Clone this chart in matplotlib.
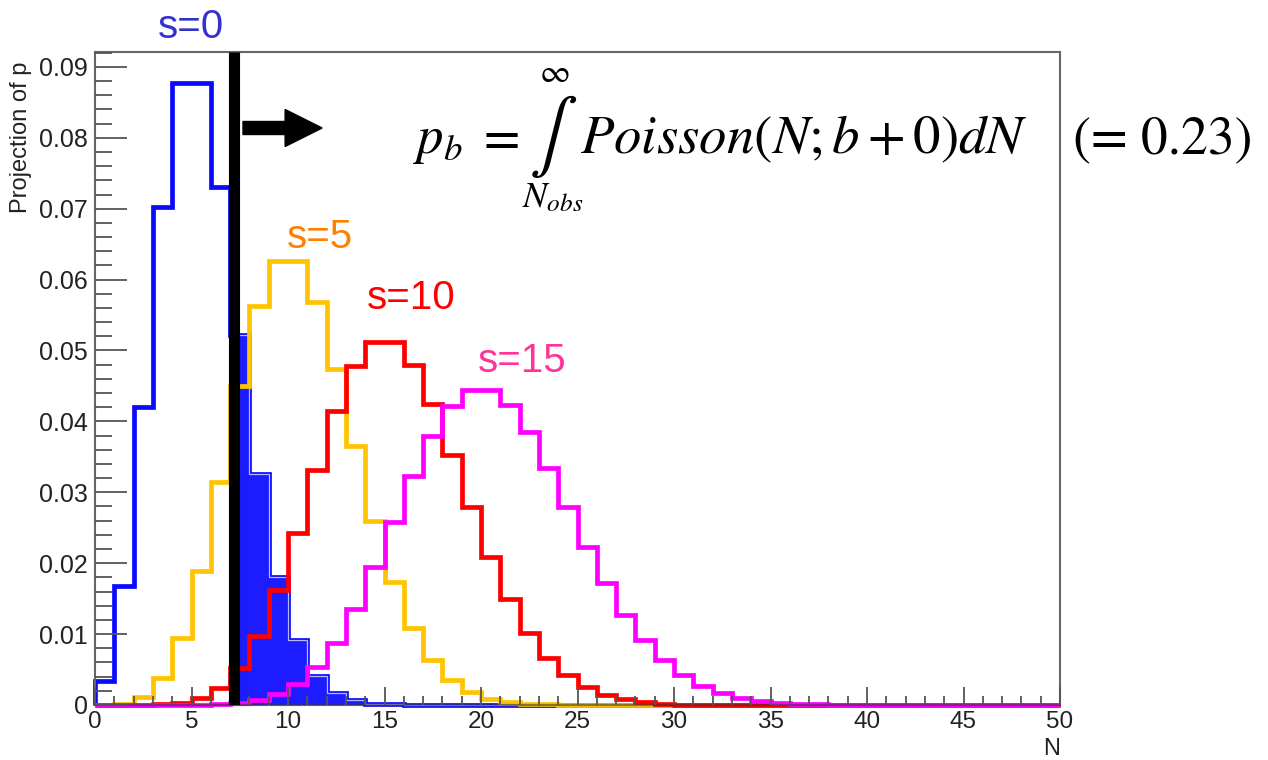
import numpy as np
import matplotlib
matplotlib.use("Agg")
import matplotlib.pyplot as plt
from matplotlib.patches import FancyArrow
from matplotlib.ticker import MultipleLocator, FuncFormatter

plt.rcParams['font.family'] = ['Liberation Sans', 'DejaVu Sans']
plt.rcParams['mathtext.fontset'] = 'stix'

# ---------------- data ----------------
n_bins = 50
x_min, x_max = 0, 50
n_obs = 7

s0_vals = [0.0034, 0.0168, 0.0421, 0.0702, 0.0877, 0.0877, 0.0731, 0.0522, 0.0326, 0.0181,
           0.0091, 0.0041, 0.0017, 0.0007, 0.0002, 0.0001]
s5_vals = [0.0000, 0.0002, 0.0011, 0.0038, 0.0095, 0.0189, 0.0315, 0.0450, 0.0563, 0.0626,
           0.0626, 0.0569, 0.0474, 0.0365, 0.0260, 0.0174, 0.0108, 0.0064, 0.0035, 0.0019,
           0.0009, 0.0004, 0.0002, 0.0001]
s10_vals = [0.0000, 0.0000, 0.0000, 0.0001, 0.0003, 0.0010, 0.0024, 0.0052, 0.0097, 0.0162,
            0.0243, 0.0331, 0.0414, 0.0478, 0.0512, 0.0512, 0.0480, 0.0424, 0.0353, 0.0279,
            0.0209, 0.0149, 0.0102, 0.0066, 0.0042, 0.0025, 0.0014, 0.0008, 0.0004, 0.0002]
s15_vals = [0.0000, 0.0000, 0.0000, 0.0000, 0.0000, 0.0000, 0.0001, 0.0003, 0.0007, 0.0015,
            0.0029, 0.0053, 0.0088, 0.0136, 0.0194, 0.0258, 0.0323, 0.0380, 0.0422, 0.0444,
            0.0444, 0.0423, 0.0385, 0.0334, 0.0279, 0.0223, 0.0172, 0.0127, 0.0091, 0.0063,
            0.0042, 0.0027, 0.0017, 0.0010, 0.0006, 0.0003, 0.0002, 0.0001]

series_labels = ["s=0", "s=5", "s=10", "s=15"]
x_title = "N"
y_title = "Projection of p"
p_value_text = "(= 0.23)"

# ---------------- figure ----------------
W, H = 1268, 760
fig = plt.figure(figsize=(W / 100, H / 100), dpi=100)


def fx(px):
    return px / W


def fy(py):
    return 1 - py / H


ax = fig.add_axes([fx(95), fy(705), fx(1060) - fx(95), fy(52) - fy(705)])

edges = np.arange(x_min, x_max + 1)


def pad(v):
    return np.array(list(v) + [0.0] * (n_bins - len(v)))


s0 = pad(s0_vals)
s5 = pad(s5_vals)
s10 = pad(s10_vals)
s15 = pad(s15_vals)

lw = 3.4
blue = '#0a0aff'
# outline of s=0
ax.stairs(s0, edges, baseline=0, color=blue, lw=lw, zorder=3, clip_on=False)
# filled tail beyond N_obs
ax.stairs(s0[n_obs:], edges[n_obs:], baseline=0, fill=True, facecolor='#1c1cff',
          edgecolor='#b8b8ff', lw=0.9, zorder=3.2, clip_on=False)
ax.stairs(s5, edges, baseline=0, color='#ffc400', lw=lw, zorder=4, clip_on=False)
ax.stairs(s10, edges, baseline=0, color='#ff0000', lw=lw, zorder=5, clip_on=False)
ax.stairs(s15, edges, baseline=0, color='#ff00ff', lw=lw, zorder=6, clip_on=False)

# observed line
ax.axvline(n_obs + 0.18, color='black', lw=8.0, zorder=9, solid_capstyle='butt')

ax.set_xlim(x_min, x_max)
ax.set_ylim(0, 0.0921)

ax.xaxis.set_major_locator(MultipleLocator(5))
ax.xaxis.set_minor_locator(MultipleLocator(1))
ax.yaxis.set_major_locator(MultipleLocator(0.01))
ax.yaxis.set_minor_locator(MultipleLocator(0.002))
ax.yaxis.set_major_formatter(FuncFormatter(lambda v, p: "0" if abs(v) < 1e-9 else f"{v:.2f}"))
ax.xaxis.set_major_formatter(FuncFormatter(lambda v, p: f"{v:.0f}"))

tick_col = '#555555'
ax.tick_params(axis='x', which='major', direction='in', length=13, width=1.3,
               color=tick_col, labelsize=17.5, pad=4, labelcolor='#222222')
ax.tick_params(axis='x', which='minor', direction='in', length=6.5, width=1.3, color=tick_col)
ax.tick_params(axis='y', which='major', direction='in', length=23, width=1.3,
               color=tick_col, labelsize=18, pad=5, labelcolor='#222222')
ax.tick_params(axis='y', which='minor', direction='in', length=12, width=1.3, color=tick_col)
ax.xaxis.set_zorder(8)
ax.yaxis.set_zorder(8)

for side, sp in ax.spines.items():
    sp.set_color('#666666')
    sp.set_linewidth(1.5)
    sp.set_zorder(8)
ax.spines['bottom'].set_color((0.2, 0.2, 0.2, 0.55))
ax.spines['bottom'].set_linewidth(1.6)

# axis titles
fig.text(fx(21), fy(62), y_title, rotation=90, ha='center', va='top',
         fontsize=17, color='#222222')
fig.text(fx(1060), fy(738), x_title, ha='right', va='top', fontsize=17, color='#222222')

# series labels
label_cols = ['#3333cc', '#ff7f00', '#ff0000', '#ff3399']
label_pos = [(191, 27), (320, 237), (411, 298), (522, 361)]
for lab, col, (px, py) in zip(series_labels, label_cols, label_pos):
    fig.text(fx(px), fy(py), lab, ha='center', va='center', fontsize=29, color=col)

# arrow
fig.add_artist(FancyArrow(fx(243), fy(128), fx(285) - fx(243) + 0.0001, 0,
                          width=13 / H, head_width=37 / H, head_length=37 / W,
                          length_includes_head=False, color='black',
                          transform=fig.transFigure))

# formula
base = 153
fig.text(fx(413), fy(base), r'$p_b$', fontsize=38, va='baseline', ha='left')
fig.text(fx(476), fy(base), r'$=$', fontsize=38, va='baseline', ha='left')
fig.text(fx(553), fy(136), r'$\int$', fontsize=52, va='center', ha='center')
fig.text(fx(554), fy(74), r'$\infty$', fontsize=24, va='center', ha='center')
fig.text(fx(522), fy(207), r'$N_{obs}$', fontsize=26, va='baseline', ha='left')
fig.text(fx(580), fy(base), r'$Poisson(N;b+0)dN$', fontsize=39.5, va='baseline', ha='left')
fig.text(fx(1073), fy(base), p_value_text, fontsize=38.5, va='baseline', ha='left',
         family='STIXGeneral')

fig.savefig('out.png', dpi=100)
